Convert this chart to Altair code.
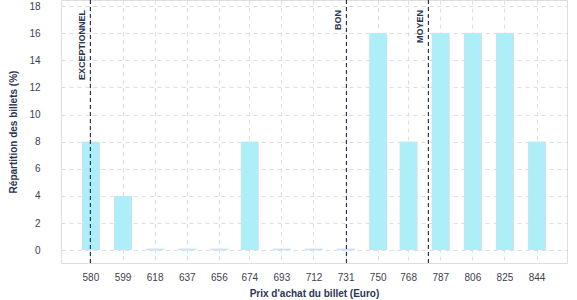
import altair as alt
import pandas as pd

prices = [580, 599, 618, 637, 656, 674, 693, 712, 731, 750, 768, 787, 806, 825, 844]
shares = [8, 4, 0.1, 0.1, 0.1, 8, 0.1, 0.1, 0.1, 16, 8, 16, 16, 16, 8]
ref_labels = ["EXCEPTIONNEL", "BON", "MOYEN"]
ref_prices = [580, 731.5, 780]

df = pd.DataFrame({"prix": prices, "part": shares})
ref = pd.DataFrame({"label": ref_labels, "prix": ref_prices})

navy = "#2b3656"
xscale = alt.Scale(domain=[562.6, 862], nice=False, zero=False, padding=0)
yscale = alt.Scale(domain=[-0.95, 18.45], nice=False, zero=False, padding=0)

xaxis = alt.Axis(values=prices, format="d", title="Prix d'achat du billet (Euro)",
                 labelPadding=9, titlePadding=6, labelOverlap=False)
yaxis = alt.Axis(values=list(range(0, 19, 2)), title="Répartition des billets (%)",
                 labelPadding=21, titlePadding=10, labelOverlap=False)

base = alt.Chart(df)
shadow = base.mark_bar(size=17, color="#d9dcdf", xOffset=1).encode(
    x=alt.X("prix:Q", scale=xscale, axis=xaxis),
    y=alt.Y("part:Q", scale=yscale, axis=yaxis),
    y2=alt.datum(0),
)
bars = base.mark_bar(size=17, color="#aeeef8").encode(
    x=alt.X("prix:Q", scale=xscale, axis=xaxis),
    y=alt.Y("part:Q", scale=yscale, axis=yaxis),
    y2=alt.datum(0),
)
lines = alt.Chart(ref).mark_rule(color=navy, strokeDash=[4, 3], strokeWidth=1.2).encode(
    x=alt.X("prix:Q", scale=xscale, axis=xaxis),
)
texts = alt.Chart(ref).mark_text(angle=270, align="right", baseline="bottom", dy=-3,
                                 fontSize=9, fontWeight="bold", color=navy,
                                 font="Liberation Sans").encode(
    x=alt.X("prix:Q", scale=xscale, axis=xaxis),
    y=alt.value(10),
    text="label:N",
)

chart = alt.layer(shadow, bars, lines, texts).properties(
    width=506, height=263,
    autosize=alt.AutoSizeParams(type="none"),
    padding={"left": 61, "top": 0, "right": 10, "bottom": 37},
).configure_view(stroke=None).configure(background="white").configure_axis(
    grid=True, gridDash=[4, 4], gridColor="#dcdcdc", ticks=False, domain=False,
    labelFontSize=10, labelColor="#3d4150", labelOverlap=False, labelFlush=False,
    labelFont="Liberation Sans", titleFont="Liberation Sans",
    titleFontSize=10, titleFontWeight="bold", titleColor=navy,
)

chart.save("out.html", embed_options={"renderer": "svg", "actions": False})
